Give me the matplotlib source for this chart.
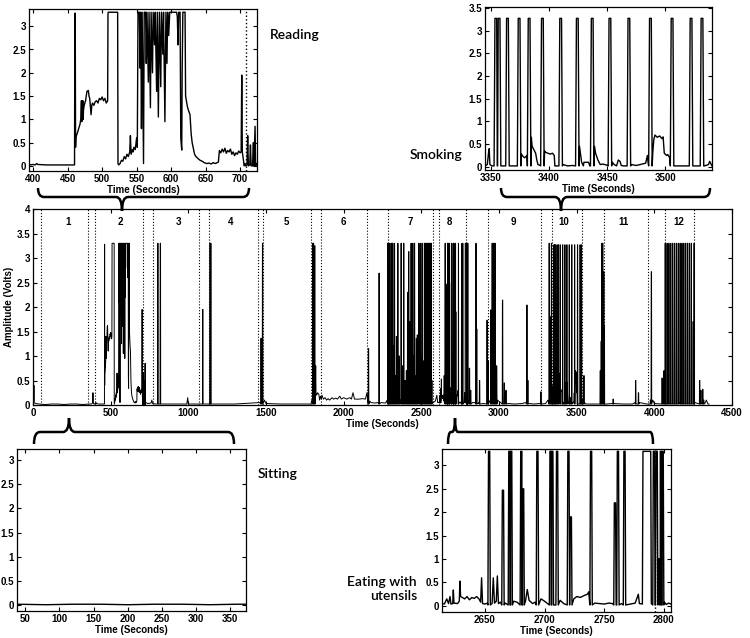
import numpy as np
import matplotlib.pyplot as plt
from matplotlib.path import Path
from matplotlib.patches import PathPatch

# ---------------- data (time in s, amplitude in V) ----------------
# "Reading" inset, 394-724 s
read_t = [394, 400, 403, 405, 407, 420, 440, 460, 460.5, 461,
          461.5, 462, 464, 466, 468, 469, 470, 470.5, 471, 472,
          472.5, 473, 474, 476, 478, 480, 481, 482, 484, 485,
          486, 488, 490, 492, 494, 496, 498, 500, 502, 504,
          506, 508, 508.5, 509, 522.5, 523, 524, 526, 528, 530,
          532, 534, 536, 538, 540, 541, 542, 544, 545, 546,
          548, 550, 551, 552, 554, 555, 556, 557, 558, 560,
          561, 563, 564, 565, 567, 568, 570, 571, 573, 574,
          576, 577, 579, 580, 581.5, 583, 585, 586, 588, 589,
          591, 592.5, 594, 595, 596.5, 598, 608, 609, 610, 611,
          613, 614, 615.4, 616, 617, 619, 620.2, 621, 623.5, 625,
          627.4, 629, 630.5, 632.2, 634, 636, 639.5, 642, 645, 648,
          651.7, 655, 658, 661, 664, 668.5, 670, 672, 674, 676,
          678, 680, 682, 684, 686, 688, 690, 692, 694, 696,
          698, 700, 701.5, 702.4, 703.2, 705, 706, 707, 708, 710,
          711, 712, 714, 715, 716, 718, 719.3, 720, 721.7, 722.5,
          724]
read_v = [0.02, 0.03, 0.02, 0.05, 0.03, 0.02, 0.02, 0.02, 3.28, 3.28,
          0.4, 0.62, 0.7, 0.8, 0.9, 1.0, 1.4, 0.95, 1.1, 1.4,
          1.0, 1.2, 1.3, 1.4, 1.6, 1.62, 1.5, 1.45, 1.1, 1.3,
          1.35, 1.3, 1.38, 1.4, 1.35, 1.45, 1.42, 1.48, 1.4, 1.45,
          1.35, 1.4, 3.28, 3.3, 3.3, 0.05, 0.02, 0.05, 0.12, 0.1,
          0.2, 0.15, 0.25, 0.2, 0.3, 0.65, 0.25, 0.35, 0.3, 0.4,
          0.35, 0.6, 0.4, 3.3, 3.3, 2.1, 3.3, 0.8, 3.3, 0.05,
          3.3, 3.3, 2.2, 3.3, 1.8, 3.3, 1.25, 3.3, 2.0, 3.3,
          2.6, 3.3, 1.6, 3.3, 1.05, 3.3, 1.7, 3.3, 2.4, 3.3,
          0.95, 3.3, 2.2, 3.3, 2.8, 3.3, 3.3, 3.2, 2.6, 3.3,
          3.3, 0.6, 0.34, 2.0, 3.3, 3.3, 3.3, 1.5, 1.28, 1.2,
          1.1, 0.7, 0.5, 0.38, 0.25, 0.2, 0.15, 0.12, 0.1, 0.07,
          0.05, 0.06, 0.04, 0.07, 0.05, 0.08, 0.33, 0.28, 0.36, 0.3,
          0.38, 0.27, 0.33, 0.3, 0.36, 0.25, 0.3, 0.22, 0.28, 0.25,
          0.32, 0.28, 0.3, 1.95, 0.3, 0.1, 0.0, 0.05, 0.0, 0.02,
          0.65, 0.0, 0.02, 0.45, 0.0, 0.0, 0.5, 0.0, 0.85, 0.0,
          0.05]

# "Sitting" inset, 38-373 s
sit_t = [38, 80, 120, 160, 200, 240, 280, 320, 360, 373]
sit_v = [0.02, 0.01, 0.02, 0.02, 0.01, 0.02, 0.02, 0.01, 0.02, 0.02]

# "Eating with utensils" inset, 2614-2806 s: baseline + pulses
eat_base_t = [2614, 2616, 2618, 2619.5, 2620.7, 2621.5, 2623, 2623.5, 2624, 2627,
              2628.5, 2629, 2629.6, 2631, 2633, 2635, 2637, 2639, 2641, 2643,
              2645, 2646.4, 2647.2, 2648, 2650, 2652, 2656, 2657, 2658, 2659.5,
              2660.4, 2661.3, 2663, 2667, 2674, 2677, 2684, 2685.5, 2687, 2690,
              2692, 2697, 2700, 2702, 2713, 2716, 2724.5, 2727, 2730, 2733,
              2736, 2737, 2742, 2746, 2750, 2754, 2757, 2764.5, 2772, 2776,
              2778.6, 2779.5, 2782, 2782.5, 2789, 2789.5, 2800.5, 2802, 2804, 2806]
eat_base_v = [0.05, 0.04, 0.15, 0.05, 0.2, 0.04, 0.05, 0.34, 0.06, 0.05,
              0.1, 0.53, 0.2, 0.18, 0.15, 0.2, 0.13, 0.18, 0.16, 0.2,
              0.15, 0.08, 0.6, 0.05, 0.04, 0.06, 0.05, 0.6, 0.06, 0.1,
              0.64, 0.05, 0.08, 0.06, 0.1, 0.08, 0.1, 0.35, 0.12, 0.05,
              0.08, 0.15, 0.1, 0.06, 0.12, 0.05, 0.15, 0.2, 0.18, 0.22,
              0.25, 0.3, 0.06, 0.05, 0.04, 0.06, 0.05, 0.05, 0.04, 0.06,
              0.25, 0.05, 0.04, 3.3, 3.3, 0.05, 0.08, 0.03, 0.06, 0.04]
eat_pulse_t = [2653.5, 2665.1, 2670.5, 2672, 2680.5, 2682, 2694, 2705, 2706.5, 2710.5,
               2720, 2722, 2739, 2759, 2761.5, 2767, 2791.7, 2794, 2796, 2797.5,
               2799]
eat_pulse_v = [3.3, 2.47, 3.3, 3.3, 3.3, 2.5, 3.3, 3.3, 3.3, 3.3,
               3.3, 1.9, 3.3, 2.2, 3.3, 3.3, 3.3, 3.3, 1.0, 3.3,
               3.3]

# "Smoking" inset, 3345-3540 s: baseline + puffs
smoke_base_t = [3345, 3347, 3348, 3348.6, 3349.2, 3351, 3352, 3359, 3362, 3366.5,
                3370, 3372, 3376.3, 3377, 3378, 3379, 3380, 3381, 3384.8, 3385.5,
                3386.5, 3387.5, 3388.5, 3389.5, 3390.5, 3392.5, 3396.2, 3397, 3399, 3401,
                3403, 3404.5, 3405, 3408, 3412, 3416, 3420, 3422.4, 3426.2, 3427,
                3428, 3429.5, 3430, 3433, 3434, 3435, 3439, 3440, 3442, 3444,
                3446, 3448, 3450.3, 3454.3, 3456, 3458, 3459.5, 3461, 3462, 3464,
                3466.6, 3470.6, 3475, 3480, 3483, 3484.5, 3485.1, 3489.1, 3490, 3491,
                3493, 3495, 3497, 3498, 3499, 3501, 3502, 3503.7, 3507.7, 3512,
                3516, 3520, 3524, 3529.4, 3533.4, 3537, 3538, 3540]
smoke_base_v = [0.02, 0.05, 0.3, 0.4, 0.05, 0.02, 0.02, 0.02, 0.02, 0.02,
                0.02, 0.02, 0.28, 0.25, 0.22, 0.2, 0.22, 0.25, 0.65, 0.45,
                0.4, 0.35, 0.3, 0.15, 0.05, 0.03, 0.35, 0.32, 0.3, 0.28,
                0.3, 0.25, 0.02, 0.02, 0.05, 0.02, 0.03, 0.02, 0.45, 0.3,
                0.1, 0.02, 0.1, 0.1, 0.1, 0.02, 0.45, 0.3, 0.15, 0.05,
                0.06, 0.05, 0.03, 0.1, 0.05, 0.02, 0.15, 0.12, 0.03, 0.02,
                0.02, 0.05, 0.03, 0.06, 0.08, 0.25, 0.1, 0.3, 0.6, 0.7,
                0.65, 0.68, 0.62, 0.66, 0.3, 0.25, 0.27, 0.2, 0.02, 0.02,
                0.02, 0.02, 0.02, 0.02, 0.02, 0.05, 0.12, 0.02]
smoke_pulse_t = [3354.3, 3357.1, 3364.3, 3374.3, 3382.9, 3394.3, 3410, 3424.3,
                 3437.1, 3452.3, 3468.6, 3487.1, 3505.7, 3522, 3531.4]
smoke_pulse_v = [3.27, 3.27, 3.27, 3.27, 3.27, 3.27, 3.27, 3.27,
                 3.27, 3.27, 3.27, 3.27, 3.27, 3.27, 3.27]

# parts of the full recording that are not in any inset
pre_t = [0, 3, 5, 6, 7, 10, 20, 37]
pre_v = [0.05, 0.05, 0.1, 0.4, 0.05, 0.04, 0.03, 0.02]
gap_t = [374, 380, 384, 386, 388, 393]
gap_v = [0.02, 0.03, 0.05, 0.25, 0.04, 0.02]

mid_base_t = [725, 740, 760, 765, 770, 790, 830, 900, 990, 996,
              1000, 1080, 1130, 1152, 1300, 1460, 1490, 1500, 1600, 1790,
              1795, 1820, 1822, 1826, 1832, 1840, 1845, 1850, 1856, 1860,
              1870, 1880, 1890, 1900, 1910, 1925, 1935, 1950, 1960, 1975,
              1985, 2000, 2020, 2040, 2050, 2060, 2070, 2100, 2120, 2140,
              2150, 2155, 2168, 2175, 2200, 2220, 2240, 2270, 2280, 2290,
              2300, 2320, 2345, 2365, 2380, 2400, 2430, 2460, 2480, 2510,
              2540, 2575, 2590, 2600, 2605, 2613]
mid_base_v = [0.05, 0.03, 0.04, 0.1, 0.03, 0.02, 0.02, 0.02, 0.02, 0.15,
              0.02, 0.02, 0.02, 0.02, 0.02, 0.05, 0.1, 0.03, 0.02, 0.02,
              0.1, 0.8, 0.25, 0.2, 0.25, 0.22, 0.1, 0.18, 0.12, 0.2,
              0.12, 0.15, 0.1, 0.13, 0.1, 0.15, 0.12, 0.14, 0.12, 0.18,
              0.12, 0.15, 0.12, 0.15, 0.12, 0.25, 0.12, 0.12, 0.13, 0.12,
              0.25, 0.08, 0.08, 0.05, 0.04, 0.05, 0.05, 0.04, 0.1, 0.15,
              0.2, 0.1, 0.2, 0.1, 0.05, 0.08, 0.2, 0.1, 0.15, 0.1,
              0.05, 0.05, 0.08, 0.2, 0.05, 0.05]
mid_pulse_t = [804, 820, 1093, 1140, 1145, 1468, 1478, 1802, 1806, 1810, 1814, 2160, 2228,
               2284, 2288, 2292, 2296, 2302, 2306, 2311, 2316, 2322, 2327,
               2335, 2340, 2349, 2358, 2370, 2378, 2387, 2395, 2404, 2412,
               2419, 2426, 2434, 2440, 2445, 2450, 2456, 2462, 2468, 2474,
               2484, 2489, 2494, 2500, 2505, 2512, 2520, 2526, 2531, 2536,
               2541, 2547, 2552, 2558, 2563, 2568]
mid_pulse_v = [3.3, 3.3, 1.95, 3.3, 3.3, 1.36, 3.3, 3.3, 3.3, 2.9, 3.25, 1.15, 2.69,
               3.3, 3.3, 1.5, 3.3, 0.8, 3.3, 3.3, 3.3, 1.2, 3.3,
               0.6, 1.4, 3.3, 1.0, 3.3, 0.8, 3.3, 0.5, 0.7, 2.3,
               3.13, 1.7, 3.3, 2.04, 3.3, 1.0, 3.3, 0.6, 1.36, 1.43,
               3.3, 2.0, 3.3, 1.0, 3.3, 0.9, 3.3, 3.3, 3.3, 1.2,
               3.3, 3.3, 3.3, 3.3, 3.3, 0.5]

post1_base_t = [2807, 2815, 2830, 2845, 2870, 2900, 2935, 2960, 2990, 3010,
                3040, 3060, 3100, 3150, 3170, 3190, 3230, 3260, 3300, 3315,
                3335, 3344]
post1_base_v = [0.05, 0.1, 0.05, 0.05, 0.05, 0.03, 0.1, 0.15, 0.1, 0.05,
                0.06, 0.03, 0.02, 0.03, 0.05, 0.03, 0.02, 0.03, 0.03, 0.1,
                0.05, 0.1]
post1_pulse_t = [2810, 2818, 2852, 2857, 2875, 2923, 2930, 2948, 2956, 2966,
                 2975, 2985, 3023, 3034, 3045, 3180, 3186, 3270, 3323, 3330,
                 3338]
post1_pulse_v = [0.75, 0.3, 3.3, 1.55, 0.5, 1.73, 0.9, 1.94, 3.3, 3.3,
                 3.3, 0.8, 2.14, 0.45, 0.3, 2.04, 0.5, 0.27, 3.3, 1.8,
                 3.3]

post2_base_t = [3541, 3550, 3560, 3600, 3640, 3655, 3670, 3690, 3730, 3740,
                3800, 3860, 3875, 3905, 3950, 3990, 4000, 4040, 4066, 4160,
                4262, 4280, 4305, 4325, 4335, 4345, 4352]
post2_base_v = [0.1, 0.05, 0.02, 0.02, 0.02, 0.03, 0.05, 0.02, 0.03, 0.03,
                0.02, 0.02, 0.05, 0.05, 0.02, 0.1, 0.03, 0.02, 0.1, 0.05,
                0.05, 0.03, 0.05, 0.03, 0.1, 0.02, 0.02]
post2_pulse_t = [3547, 3652, 3658, 3662, 3668, 3675, 3678, 3735, 3880, 3898,
                 3975, 3981, 4050, 4062, 4070, 4082, 4094, 4106, 4118, 4130,
                 4142, 4154, 4166, 4178, 4190, 4202, 4214, 4226, 4238, 4250,
                 4256, 4292, 4300, 4312, 4318]
post2_pulse_v = [0.6, 0.7, 1.3, 3.3, 3.3, 2.72, 1.6, 0.12, 0.5, 0.25,
                 0.1, 2.72, 0.55, 0.7, 3.3, 3.3, 3.3, 3.3, 3.3, 3.3,
                 3.3, 3.3, 3.3, 3.3, 3.3, 3.3, 3.3, 3.3, 3.3, 1.7,
                 3.3, 0.5, 0.3, 0.32, 0.1]

# activity boundaries (dotted lines) and segment numbers
bounds = [54, 354, 396, 708, 771, 1071, 1136, 1446, 1483, 1789, 1853, 2153,
          2284, 2573, 2612, 2790, 2927, 3270, 3341, 3534, 3673, 3962, 4067, 4256]
seg_x = [225, 561, 939, 1275, 1629, 1997, 2430, 2681, 3092, 3416, 3800, 4160]
seg_labels = ["1", "2", "3", "4", "5", "6", "7", "8", "9", "10", "11", "12"]


def with_pulses(base_t, base_v, pulse_t, pulse_v, width):
    # baseline samples plus flat-topped pulses, sorted in time
    half = width / 2.0
    t, v = [], []
    for bt, bv in zip(base_t, base_v):
        if all(abs(bt - c) > half for c in pulse_t):
            t.append(bt)
            v.append(bv)
    for c, p in zip(pulse_t, pulse_v):
        t += [c - half, c - half / 2, c + half / 2, c + half]
        v += [0.02, p, p, 0.02]
    order = np.argsort(t, kind="stable")
    return np.array(t)[order], np.array(v)[order]


eat_t, eat_v = with_pulses(eat_base_t, eat_base_v, eat_pulse_t, eat_pulse_v, 2.0)
smoke_t, smoke_v = with_pulses(smoke_base_t, smoke_base_v, smoke_pulse_t, smoke_pulse_v, 3.0)
mid_t, mid_v = with_pulses(mid_base_t, mid_base_v, mid_pulse_t, mid_pulse_v, 4.0)
p1_t, p1_v = with_pulses(post1_base_t, post1_base_v, post1_pulse_t, post1_pulse_v, 4.0)
p2_t, p2_v = with_pulses(post2_base_t, post2_base_v, post2_pulse_t, post2_pulse_v, 4.0)

full_t = np.concatenate([pre_t, sit_t, gap_t, read_t, mid_t, eat_t, p1_t, smoke_t, p2_t])
full_v = np.concatenate([pre_v, sit_v, gap_v, read_v, mid_v, eat_v, p1_v, smoke_v, p2_v])

# ---------------- drawing ----------------
plt.rcParams['font.family'] = ['Liberation Sans', 'DejaVu Sans']
plt.rcParams['font.weight'] = 'bold'
W, H = 750, 638
fig = plt.figure(figsize=(W / 100, H / 100), dpi=100)


def px_axes(left, top, right, bottom):
    return fig.add_axes([left / W, 1 - bottom / H, (right - left) / W, (bottom - top) / H])


def style(ax, xticks, yticks, xlim, ylim, xlabel="Time (Seconds)"):
    ax.set_xlim(xlim)
    ax.set_ylim(ylim)
    ax.set_xticks(xticks)
    ax.set_xticklabels([f"{x:g}" for x in xticks])
    ax.set_yticks(yticks)
    ax.set_yticklabels([f"{y:g}" for y in yticks])
    ax.tick_params(direction='in', top=True, right=True, length=3, width=0.8,
                   labelsize=7, pad=2)
    for sp in ax.spines.values():
        sp.set_linewidth(0.9)
    if xlabel:
        ax.set_xlabel(xlabel, fontsize=7, fontweight='bold', labelpad=1)


half_ticks = [0, 0.5, 1, 1.5, 2, 2.5, 3]

# reading
ax_r = px_axes(29, 9, 257, 171)
ax_r.plot(read_t, read_v, color='black', lw=1.0)
ax_r.axvline(708.7, color='black', ls=':', lw=1.0)
style(ax_r, [400, 450, 500, 550, 600, 650, 700], half_ticks, (394, 724.5), (-0.11, 3.37))

# smoking
ax_s = px_axes(485, 7, 712, 170)
ax_s.plot(smoke_t, smoke_v, color='black', lw=1.0)
style(ax_s, [3350, 3400, 3450, 3500], half_ticks + [3.5], (3345, 3540), (-0.07, 3.52))

# full recording
ax_m = px_axes(33, 209, 732, 405)
ax_m.plot(full_t, full_v, color='black', lw=0.7)
for b in bounds:
    ax_m.axvline(b, color='black', ls=':', lw=0.8)
for x, lab in zip(seg_x, seg_labels):
    ax_m.text(x, 3.73, lab, ha='center', va='center', fontsize=7, fontweight='bold')
style(ax_m, list(range(0, 4501, 500)), half_ticks + [3.5, 4], (0, 4500), (0, 4))
ax_m.set_ylabel("Amplitude (Volts)", fontsize=7, fontweight='bold', labelpad=2)

# sitting
ax_sit = px_axes(17, 449, 246, 611)
ax_sit.plot(sit_t, sit_v, color='black', lw=1.0)
style(ax_sit, [50, 100, 150, 200, 250, 300, 350], half_ticks, (38, 373), (-0.12, 3.23))

# eating
ax_e = px_axes(442, 449, 671, 612)
ax_e.plot(eat_t, eat_v, color='black', lw=1.0)
ax_e.axvline(2792.5, color='black', ls=':', lw=1.0)
style(ax_e, [2650, 2700, 2750, 2800], half_ticks, (2614, 2806), (-0.13, 3.35))

# activity names
name_font = dict(fontsize=10, fontweight='semibold', family=['Lato', 'DejaVu Sans'])
fig.text(270 / W, 1 - 35 / H, "Reading", ha='left', va='center', **name_font)
fig.text(410 / W, 1 - 155 / H, "Smoking", ha='left', va='center', **name_font)
fig.text(258 / W, 1 - 474 / H, "Sitting", ha='left', va='center', **name_font)
fig.text(417 / W, 1 - 589 / H, "Eating with\nutensils", ha='right', va='center',
         linespacing=1.15, **name_font)


def brace(x0, x1, xt, yh, yend, ytip, r=6):
    pts = [(x0, yend), (x0, yh), (x0 + r, yh), (xt - r, yh), (xt, yh), (xt, ytip),
           (xt, yh), (xt + r, yh), (x1 - r, yh), (x1, yh), (x1, yend)]
    codes = [Path.MOVETO, Path.CURVE3, Path.CURVE3, Path.LINETO, Path.CURVE3, Path.CURVE3,
             Path.CURVE3, Path.CURVE3, Path.LINETO, Path.CURVE3, Path.CURVE3]
    verts = [(x / W, 1 - y / H) for x, y in pts]
    fig.add_artist(PathPatch(Path(verts, codes), transform=fig.transFigure,
                             fill=False, lw=1.8, edgecolor='black'))


brace(38, 249, 122, 197, 188, 211)
brace(501, 710, 561, 197, 188, 211)
brace(34, 234, 69, 432, 444, 418)
brace(448, 653, 455, 432, 444, 418, r=3)

fig.savefig("out.png", dpi=100)
